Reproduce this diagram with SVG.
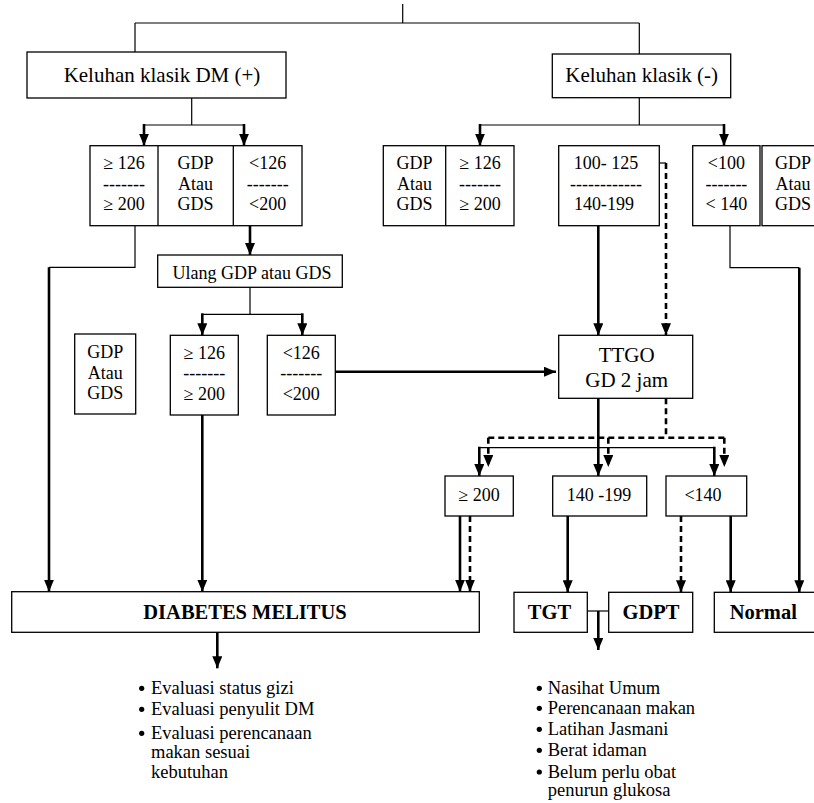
<svg xmlns="http://www.w3.org/2000/svg" width="814" height="803" viewBox="0 0 814 803">
<style>
  .box{fill:#fff;stroke:#000;stroke-width:1.3}
  text{font-family:"Liberation Serif","Times New Roman",serif;fill:#000}
  .m{font-size:18px;text-anchor:middle}
  .h{font-size:21px;text-anchor:middle}
  .b{font-size:20.5px;font-weight:bold;text-anchor:middle}
  .li{font-size:18.5px}
  .thin{fill:none;stroke:#000;stroke-width:1.2}
  .thick{fill:none;stroke:#000;stroke-width:2.6}
  .dash{fill:none;stroke:#000;stroke-width:2.6;stroke-dasharray:6 4}
  .arr{marker-end:url(#ah)}
</style>
<defs>
  <marker id="ah" markerUnits="userSpaceOnUse" markerWidth="12" markerHeight="10" refX="12" refY="5" orient="auto" viewBox="0 0 12 10">
    <path d="M0,0 L12,5 L0,10 Z" fill="#000"/>
  </marker>
</defs>

<!-- connectors -->
<g id="connectors">
  <path class="thin" d="M402.7,4 V23 M135,23 H639.3 M135,23 V52 M639.3,23 V54"/>
  <path class="thin" d="M191.7,98 V125 M144,125 H244 M639.3,97.7 V125 M480,125 H724"/>
  <path class="thick arr" d="M144,124 V145.7"/>
  <path class="thick arr" d="M244,124 V145.7"/>
  <path class="thick arr" d="M480,124 V145.7"/>
  <path class="thick arr" d="M724,124 V145.7"/>

  <path class="thin" d="M135,225.7 V267.3 H49"/>
  <path class="thick arr" d="M49,267.3 V591.7"/>
  <path class="thick arr" d="M250,225.7 V255"/>
  <path class="thin" d="M250,287.3 V314.3 M202.3,314.3 H302.3"/>
  <path class="thick arr" d="M202.3,313.3 V335.3"/>
  <path class="thick arr" d="M302.3,313.3 V335.3"/>
  <path class="thick arr" d="M335.3,371.7 H556"/>
  <path class="thick arr" d="M202.3,415 V591.7"/>

  <path class="thick arr" d="M598.3,225.7 V335.3"/>
  <path class="thin" d="M659.3,163 H666"/>
  <path class="dash arr" d="M666,163 V335.3"/>
  <path class="thin" d="M730,225.7 V267.7 H799.3"/>
  <path class="thick arr" d="M799.3,267.7 V592.3"/>

  <path class="thick arr" d="M598.3,398.3 V476"/>
  <path class="dash" d="M666,398.3 V437.7 M488.3,437.7 H724.3"/>
  <path class="dash arr" d="M488.3,437.7 V467"/>
  <path class="dash arr" d="M608.3,437.7 V467"/>
  <path class="dash arr" d="M724.3,437.7 V467"/>
  <path class="thin" d="M479.3,447.7 H714.3"/>
  <path class="thick arr" d="M479.3,446.7 V476"/>
  <path class="thick arr" d="M714.3,446.7 V476"/>

  <path class="thick arr" d="M460,516 V591.7"/>
  <path class="dash arr" d="M470,516 V591.7"/>
  <path class="thick arr" d="M567.7,516 V592.3"/>
  <path class="dash arr" d="M681,516 V592.3"/>
  <path class="thick arr" d="M730.7,516 V592.3"/>

  <path class="thin" d="M587.3,611 H608.7"/>
  <path class="thick arr" d="M598.3,611 V650"/>
  <path class="thick arr" d="M217.3,632.3 V668.3"/>
</g>

<!-- first level -->
<g id="keluhan-dm-plus">
  <rect class="box" x="27" y="52" width="259" height="46"/>
  <text class="h" x="162" y="82">Keluhan klasik DM (+)</text>
</g>
<g id="keluhan-minus">
  <rect class="box" x="552.3" y="54" width="178.4" height="43.7"/>
  <text class="h" x="641.7" y="82.3">Keluhan klasik (-)</text>
</g>

<!-- left criteria row -->
<g id="kriteria-dm-plus">
  <rect class="box" x="90" y="145.7" width="212" height="80"/>
  <path class="box" d="M158,145.7 V225.7 M233.3,145.7 V225.7"/>
  <text class="m" x="124" y="169">≥ 126</text>
  <text class="m" x="124" y="190">-------</text>
  <text class="m" x="124" y="210">≥ 200</text>
  <text class="m" x="195.6" y="169">GDP</text>
  <text class="m" x="195.6" y="189.5">Atau</text>
  <text class="m" x="195.6" y="210">GDS</text>
  <text class="m" x="267.7" y="169">&lt;126</text>
  <text class="m" x="267.7" y="190">-------</text>
  <text class="m" x="267.7" y="210">&lt;200</text>
</g>

<!-- right criteria row -->
<g id="kriteria-minus-dm">
  <rect class="box" x="383.3" y="145.7" width="130.7" height="80"/>
  <path class="box" d="M445.7,145.7 V225.7"/>
  <text class="m" x="414.5" y="169">GDP</text>
  <text class="m" x="414.5" y="189.5">Atau</text>
  <text class="m" x="414.5" y="210">GDS</text>
  <text class="m" x="480" y="169">≥ 126</text>
  <text class="m" x="480" y="190">-------</text>
  <text class="m" x="480" y="210">≥ 200</text>
</g>
<g id="kriteria-meragukan">
  <rect class="box" x="558.7" y="145.7" width="100.6" height="80"/>
  <text class="m" x="606" y="169">100- 125</text>
  <text class="m" x="606" y="190">------------</text>
  <text class="m" x="604" y="210">140-199</text>
</g>
<g id="kriteria-normal">
  <rect class="box" x="692.7" y="145.7" width="67.3" height="80"/>
  <text class="m" x="726.4" y="169">&lt;100</text>
  <text class="m" x="726.4" y="190">-------</text>
  <text class="m" x="726.4" y="210">&lt; 140</text>
</g>
<g id="label-gdp-gds-kanan">
  <rect class="box" x="762" y="145.7" width="70" height="80"/>
  <text class="m" x="793" y="169">GDP</text>
  <text class="m" x="793" y="189.5">Atau</text>
  <text class="m" x="793" y="210">GDS</text>
</g>

<!-- repeat test -->
<g id="ulang">
  <rect class="box" x="157.7" y="255" width="184.6" height="32.3"/>
  <text class="m" x="252" y="279">Ulang GDP atau GDS</text>
</g>
<g id="label-gdp-gds-kiri">
  <rect class="box" x="74.7" y="334" width="61" height="80"/>
  <text class="m" x="105.2" y="358.3">GDP</text>
  <text class="m" x="105.2" y="378.5">Atau</text>
  <text class="m" x="105.2" y="399">GDS</text>
</g>
<g id="ulang-tinggi">
  <rect class="box" x="170.3" y="335.3" width="68" height="79.7"/>
  <text class="m" x="204.3" y="359.3">≥ 126</text>
  <text class="m" x="204.3" y="379">-------</text>
  <text class="m" x="204.3" y="400">≥ 200</text>
</g>
<g id="ulang-rendah">
  <rect class="box" x="267.3" y="335.3" width="68" height="79.7"/>
  <text class="m" x="301.3" y="359.3">&lt;126</text>
  <text class="m" x="301.3" y="379">-------</text>
  <text class="m" x="301.3" y="400">&lt;200</text>
</g>

<!-- oral glucose tolerance test -->
<g id="ttgo">
  <rect class="box" x="558.7" y="335.3" width="134" height="63"/>
  <text class="h" x="626.7" y="362">TTGO</text>
  <text class="h" x="626.7" y="387">GD 2 jam</text>
</g>
<g id="hasil-tinggi">
  <rect class="box" x="445" y="476" width="68.3" height="40"/>
  <text class="m" x="479" y="501">≥ 200</text>
</g>
<g id="hasil-sedang">
  <rect class="box" x="552.7" y="476" width="94" height="40"/>
  <text class="m" x="599" y="501">140 -199</text>
</g>
<g id="hasil-normal">
  <rect class="box" x="666" y="476" width="80.7" height="40"/>
  <text class="m" x="703" y="501">&lt;140</text>
</g>

<!-- outcomes -->
<g id="diabetes-melitus">
  <rect class="box" x="11.7" y="591.7" width="467.6" height="40.6"/>
  <text class="b" x="245" y="619">DIABETES MELITUS</text>
</g>
<g id="tgt">
  <rect class="box" x="514" y="592.3" width="73.3" height="40"/>
  <text class="b" x="549.5" y="619">TGT</text>
</g>
<g id="gdpt">
  <rect class="box" x="608.7" y="592.3" width="84" height="40"/>
  <text class="b" x="651" y="619">GDPT</text>
</g>
<g id="normal">
  <rect class="box" x="714.3" y="592.3" width="120" height="40"/>
  <text class="b" x="763.3" y="619">Normal</text>
</g>

<!-- follow-up lists -->
<g id="tindakan-dm">
  <circle cx="141.7" cy="688.3" r="2.6"/>
  <circle cx="141.7" cy="709.3" r="2.6"/>
  <circle cx="141.7" cy="733.3" r="2.6"/>
  <text class="li" x="151" y="694">Evaluasi status gizi</text>
  <text class="li" x="151" y="715">Evaluasi penyulit DM</text>
  <text class="li" x="151" y="739">Evaluasi perencanaan</text>
  <text class="li" x="151" y="758.3">makan sesuai</text>
  <text class="li" x="151" y="777.7">kebutuhan</text>
</g>
<g id="tindakan-tgt-gdpt">
  <circle cx="539.3" cy="688.3" r="2.6"/>
  <circle cx="539.3" cy="708.3" r="2.6"/>
  <circle cx="539.3" cy="729.3" r="2.6"/>
  <circle cx="539.3" cy="750.3" r="2.6"/>
  <circle cx="539.3" cy="772" r="2.6"/>
  <text class="li" x="547.7" y="694">Nasihat Umum</text>
  <text class="li" x="547.7" y="714">Perencanaan makan</text>
  <text class="li" x="547.7" y="735">Latihan Jasmani</text>
  <text class="li" x="547.7" y="756">Berat idaman</text>
  <text class="li" x="547.7" y="777.7">Belum perlu obat</text>
  <text class="li" x="547.7" y="796">penurun glukosa</text>
</g>
</svg>
